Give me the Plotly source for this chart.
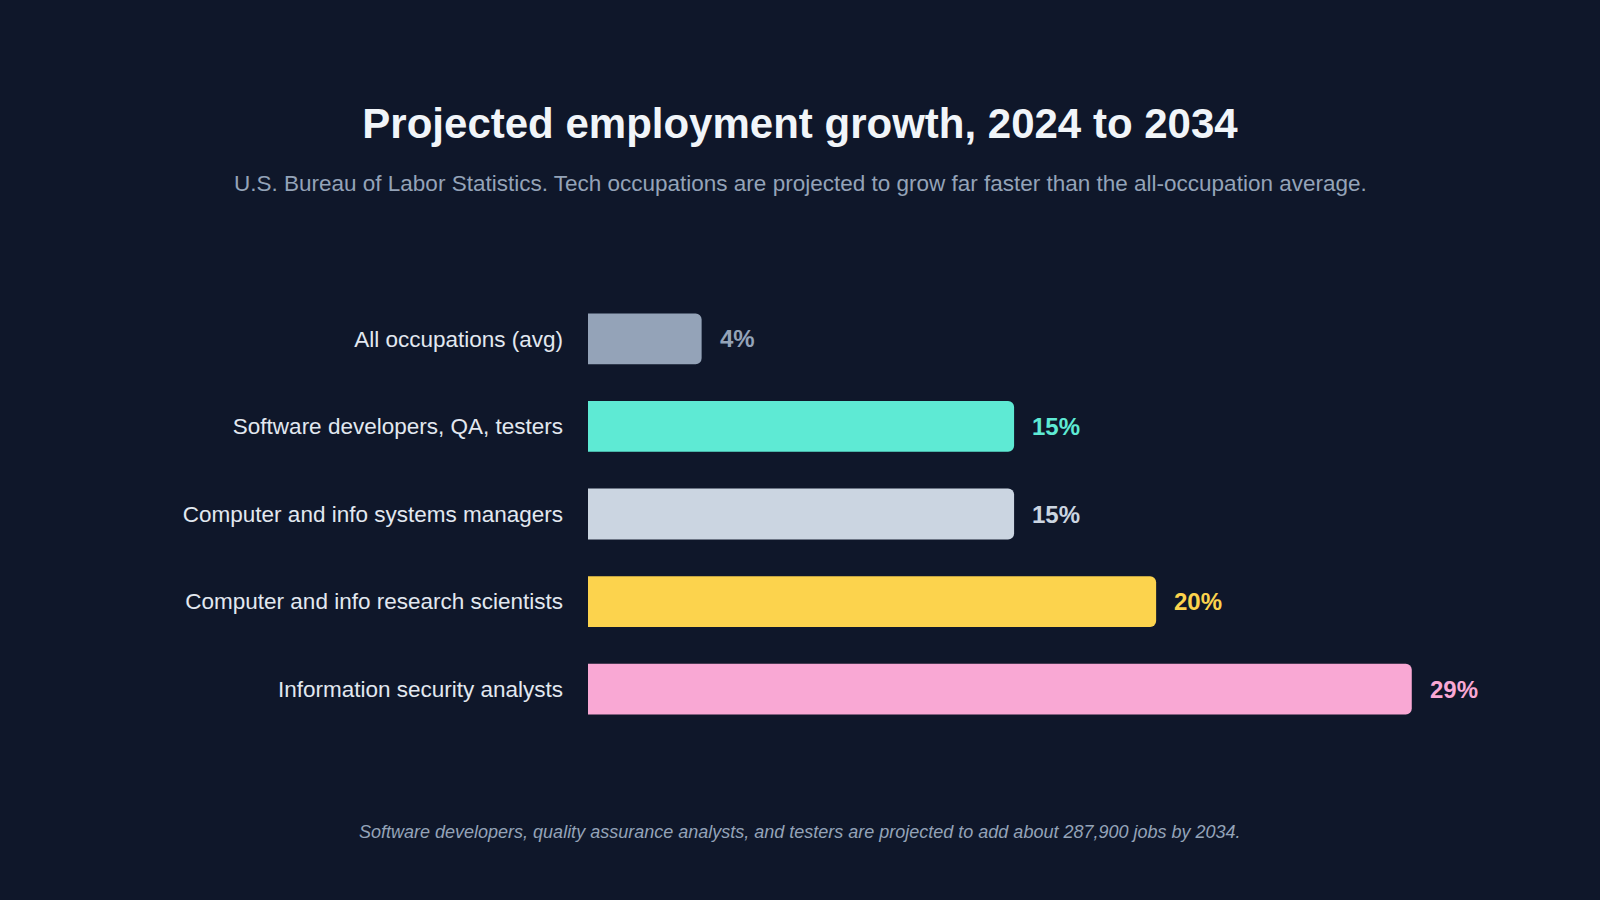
import plotly.graph_objects as go

categories = [
    "All occupations (avg)",
    "Software developers, QA, testers",
    "Computer and info systems managers",
    "Computer and info research scientists",
    "Information security analysts",
]
growth = [4, 15, 15, 20, 29]
value_labels = ["4%", "15%", "15%", "20%", "29%"]
colors = ["#94a3b8", "#5eead4", "#cbd5e1", "#fcd34d", "#f9a8d4"]

BG = "#0f172a"
FONT = "Liberation Sans, Arial, sans-serif"

PLOT_L, PLOT_R = 588, 103
PLOT_TOP, PLOT_BOTTOM = 295, 733
PLOT_H = PLOT_BOTTOM - PLOT_TOP
PLOT_W = 1600 - PLOT_L - PLOT_R


def paper_y(y_px):
    return (PLOT_BOTTOM - y_px) / PLOT_H


def paper_x(x_px):
    return (x_px - PLOT_L) / PLOT_W


fig = go.Figure(
    go.Bar(
        x=growth,
        y=categories,
        orientation="h",
        marker=dict(color=colors, line=dict(width=0)),
        width=0.58,
        hoverinfo="skip",
    )
)

for cat, val, lab, col in zip(categories, growth, value_labels, colors):
    fig.add_annotation(
        x=val, y=cat, xref="x", yref="y", text=f"<b>{lab}</b>",
        showarrow=False, xanchor="left", yanchor="middle", xshift=16,
        font=dict(family=FONT, size=24, color=col),
    )

fig.add_annotation(
    x=paper_x(800), y=paper_y(183), xref="paper", yref="paper",
    text="U.S. Bureau of Labor Statistics. Tech occupations are projected to grow far faster than the all-occupation average.",
    showarrow=False, xanchor="center", yanchor="middle",
    font=dict(family=FONT, size=22.5, color="#94a3b8"),
)
fig.add_annotation(
    x=paper_x(800), y=paper_y(832), xref="paper", yref="paper",
    text="<i>Software developers, quality assurance analysts, and testers are projected to add about 287,900 jobs by 2034.</i>",
    showarrow=False, xanchor="center", yanchor="middle",
    font=dict(family=FONT, size=18, color="#94a3b8"),
)

fig.update_layout(
    width=1600, height=900,
    paper_bgcolor=BG, plot_bgcolor=BG,
    margin=dict(l=PLOT_L, r=PLOT_R, t=PLOT_TOP, b=900 - PLOT_BOTTOM),
    barcornerradius=6,
    showlegend=False,
    title=dict(
        text="<b>Projected employment growth, 2024 to 2034</b>",
        x=0.5, xref="container", xanchor="center",
        y=1 - 123 / 900, yref="container", yanchor="middle",
        font=dict(family=FONT, size=42, color="#f1f5f9"),
    ),
    xaxis=dict(range=[0, 32], visible=False, fixedrange=True),
    yaxis=dict(
        autorange="reversed", showgrid=False, zeroline=False,
        showline=False, ticks="", ticklabelstandoff=24,
        tickfont=dict(family=FONT, size=22.5, color="#e2e8f0"),
    ),
    font=dict(family=FONT),
)

fig.write_html("out.html")
